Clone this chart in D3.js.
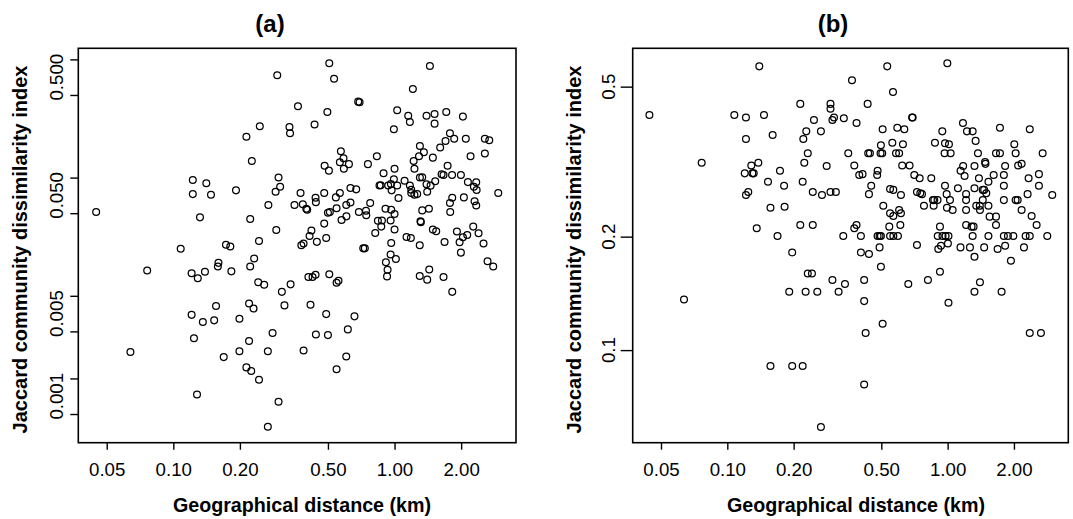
<!DOCTYPE html>
<html>
<head>
<meta charset="utf-8">
<script src="https://cdn.jsdelivr.net/npm/d3@7"></script>
<style>
  body { margin: 0; background: #fff; }
  svg { font-family: "Liberation Sans", Arial, sans-serif; }
</style>
</head>
<body>
<svg id="chart" width="1073" height="519"></svg>
<script>
// (distance km, Jaccard dissimilarity)
const pointsA = [
  [0.507,0.927],[1.445,0.879],[0.295,0.733],[0.533,0.687],[1.21,0.562],[0.685,0.439],[0.695,0.434],
  [0.366,0.401],[0.497,0.359],[1.028,0.371],[1.153,0.334],[1.395,0.334],[1.517,0.345],[1.713,0.359],
  [2.037,0.328],[1.173,0.2955],[1.517,0.286],[0.246,0.272],[0.435,0.281],[0.335,0.268],[0.337,0.237],
  [0.993,0.256],[0.214,0.222],[1.78,0.237],[1.70,0.204],[1.861,0.213],[2.10,0.213],[2.56,0.213],
  [2.68,0.207],[1.302,0.185],[1.608,0.180],[1.357,0.164],[1.29,0.1515],[1.49,0.1475],[2.206,0.1515],
  [2.56,0.160],[0.572,0.167],[0.588,0.1456],[0.566,0.1347],[0.622,0.130],[0.590,0.119],[0.832,0.1515],
  [0.2265,0.138],[0.483,0.126],[0.505,0.1145],[0.758,0.130],[1.22,0.138],[1.23,0.119],[1.737,0.126],
  [1.0,0.119],[0.892,0.1087],[1.632,0.1066],[1.665,0.1052],[1.82,0.1052],[1.995,0.1052],[1.302,0.1002],
  [1.334,0.1007],[0.993,0.0967],[1.11,0.0942],[1.527,0.093],[1.395,0.088],[1.455,0.0855],[2.146,0.0916],
  [2.34,0.0913],[2.284,0.0838],[2.35,0.0785],[0.855,0.0857],[0.866,0.086],[0.936,0.0857],[0.963,0.0881],
  [1.028,0.0857],[0.97,0.078],[1.173,0.0857],[1.19,0.079],[1.19,0.0741],[1.23,0.0716],[1.266,0.0725],
  [1.405,0.076],[0.299,0.100],[0.304,0.0838],[0.29,0.076],[0.192,0.078],[0.1225,0.0955],[0.141,0.0895],
  [0.1225,0.0725],[0.148,0.0716],[0.632,0.0817],[0.671,0.0795],[0.376,0.0741],[0.481,0.0741],[0.566,0.0741],
  [0.4395,0.0675],[0.441,0.062],[0.543,0.068],[0.605,0.0587],[0.632,0.0615],[0.776,0.061],[1.042,0.0672],
  [1.823,0.0675],[1.78,0.061],[2.058,0.068],[2.30,0.0632],[2.34,0.058],[2.943,0.0741],[0.269,0.0587],
  [0.353,0.0587],[0.385,0.0595],[0.399,0.0545],[0.403,0.0535],[0.50,0.0505],[0.51,0.0512],[0.547,0.055],
  [0.69,0.0512],[0.743,0.0525],[0.745,0.048],[0.91,0.0545],[0.966,0.0535],[1.0,0.0492],[1.334,0.0528],
  [1.43,0.0545],[1.785,0.0512],[0.0448,0.0512],[0.132,0.0461],[0.2226,0.0447],[0.606,0.047],[0.576,0.0438],
  [0.481,0.0408],[0.841,0.0432],[0.877,0.0433],[0.871,0.0385],[0.96,0.0433],[1.0,0.0364],[1.31,0.0427],
  [1.315,0.042],[1.49,0.0363],[1.543,0.0352],[2.268,0.0385],[2.398,0.0338],[1.914,0.035],[1.968,0.0284],
  [2.037,0.0313],[2.131,0.0327],[0.818,0.034],[0.292,0.0361],[0.421,0.0357],[0.413,0.032],[0.491,0.0308],
  [0.4455,0.0286],[0.244,0.0291],[0.388,0.0277],[0.379,0.0268],[0.966,0.028],[1.133,0.0314],[1.185,0.0308],
  [1.30,0.0268],[1.683,0.0285],[2.525,0.0277],[1.995,0.0232],[0.108,0.025],[0.173,0.027],[0.181,0.0261],
  [0.722,0.0252],[0.734,0.0252],[0.232,0.0207],[0.96,0.0224],[1.014,0.0205],[0.914,0.0192],[0.93,0.0166],
  [0.925,0.0146],[0.160,0.019],[0.159,0.0177],[0.0762,0.0164],[0.121,0.0155],[0.129,0.0141],[0.139,0.016],
  [0.183,0.0161],[0.2226,0.0177],[2.633,0.0196],[2.793,0.0177],[1.435,0.0167],[1.30,0.0147],[1.405,0.0137],
  [1.665,0.0144],[0.408,0.0144],[0.426,0.0144],[0.4395,0.0151],[0.507,0.0152],[0.547,0.0129],[0.558,0.0134],
  [0.242,0.013],[0.2575,0.0124],[0.339,0.0125],[0.3095,0.0108],[1.823,0.0108],[0.156,0.0082],[0.220,0.0086],
  [0.2305,0.0078],[0.318,0.0083],[0.417,0.0084],[0.121,0.0069],[0.136,0.006],[0.153,0.0062],[0.199,0.0064],
  [0.491,0.007],[0.659,0.0067],[0.281,0.00485],[0.441,0.0047],[0.50,0.00465],[0.615,0.0052],[0.124,0.00437],
  [0.220,0.00415],[0.064,0.00335],[0.199,0.0034],[0.2675,0.0034],[0.388,0.00344],[0.169,0.00303],
  [0.605,0.00307],[0.214,0.00248],[0.225,0.00231],[0.547,0.00239],[0.244,0.00195],[0.128,0.00146],
  [0.299,0.00127],[0.2675,0.00078]
];

// (distance km, Jaccard dissimilarity)
const pointsB = [
  [0.1397,0.566],[0.532,0.566],[0.997,0.577],[0.368,0.520],[0.565,0.484],[0.2144,0.450],[0.294,0.450],
  [0.4335,0.450],[0.294,0.437],[0.0443,0.4205],[0.1076,0.4205],[0.1215,0.4143],[0.1467,0.4205],
  [0.2473,0.408],[0.300,0.408],[0.305,0.4143],[0.338,0.412],[0.386,0.4005],[0.69,0.4143],[0.694,0.4143],
  [1.174,0.4005],[1.728,0.389],[2.36,0.3855],[0.507,0.3855],[0.591,0.389],[0.636,0.3855],[0.946,0.3805],
  [1.224,0.3805],[1.299,0.3805],[0.2283,0.3805],[0.266,0.3805],[0.1215,0.363],[0.1606,0.372],[0.2213,0.363],
  [1.34,0.359],[0.561,0.355],[0.876,0.355],[0.973,0.3538],[1.014,0.3516],[0.498,0.3494],[0.627,0.3516],
  [2.008,0.3516],[0.2319,0.3327],[0.354,0.3327],[0.436,0.3327],[0.444,0.3327],[0.496,0.3327],[0.505,0.3327],
  [0.583,0.3327],[0.6025,0.3327],[0.969,0.3327],[1.032,0.3327],[1.373,0.3327],[1.658,0.3327],[1.728,0.3327],
  [2.036,0.3327],[2.70,0.3327],[0.0765,0.314],[0.1383,0.314],[0.1285,0.309],[0.2236,0.314],[0.2825,0.308],
  [0.377,0.309],[0.622,0.309],[0.672,0.309],[1.176,0.308],[1.324,0.308],[1.485,0.312],[1.48,0.3155],
  [1.824,0.308],[2.09,0.309],[2.167,0.312],[0.120,0.2944],[0.130,0.2944],[0.1318,0.2944],[0.1734,0.299],
  [0.397,0.2915],[0.411,0.293],[0.481,0.299],[0.479,0.2915],[0.706,0.2915],[0.7465,0.2856],[0.843,0.2856],
  [1.145,0.299],[1.194,0.2897],[1.387,0.2856],[1.618,0.2915],[1.80,0.2915],[2.331,0.2856],[2.597,0.293],
  [0.153,0.2798],[0.2198,0.2798],[0.181,0.273],[0.450,0.273],[0.548,0.2677],[0.567,0.2661],[0.973,0.273],
  [1.114,0.2688],[1.324,0.2688],[1.465,0.2661],[1.532,0.2798],[1.80,0.273],[2.597,0.273],[0.1215,0.258],
  [0.1245,0.2628],[0.2443,0.2628],[0.269,0.258],[0.294,0.2628],[0.311,0.2628],[0.4395,0.2593],[0.614,0.258],
  [0.726,0.2628],[0.7515,0.2606],[0.765,0.2593],[0.99,0.2593],[0.858,0.250],[0.870,0.250],[0.90,0.250],
  [1.025,0.250],[1.213,0.250],[1.444,0.2661],[1.498,0.2606],[1.213,0.2593],[1.80,0.250],[2.036,0.250],
  [2.08,0.250],[2.985,0.258],[0.157,0.2387],[0.182,0.2402],[0.5105,0.2416],[0.548,0.2306],[0.567,0.227],
  [0.6025,0.2353],[0.614,0.2306],[0.781,0.2416],[0.864,0.2416],[0.993,0.2387],[1.054,0.2353],[1.213,0.2353],
  [1.349,0.2416],[1.402,0.2353],[1.444,0.250],[1.532,0.2416],[2.167,0.2353],[1.40,0.2416],[1.551,0.226],
  [1.658,0.226],[2.406,0.227],[0.136,0.2104],[0.2144,0.2148],[0.2443,0.2148],[0.377,0.2104],[0.386,0.2148],
  [0.5435,0.2126],[0.61,0.2148],[0.923,0.2126],[1.213,0.2148],[1.285,0.2126],[1.312,0.2126],[1.658,0.2148],
  [2.307,0.2593],[2.535,0.2148],[0.169,0.2008],[0.336,0.2008],[0.404,0.2008],[0.481,0.2008],[0.491,0.2008],
  [0.498,0.2008],[0.548,0.2008],[0.567,0.2008],[0.595,0.2008],[0.902,0.2008],[0.948,0.2008],[0.979,0.2008],
  [1.009,0.2008],[1.299,0.2008],[1.532,0.2008],[1.80,0.2008],[1.878,0.2008],[1.987,0.2008],[2.26,0.2008],
  [2.36,0.2008],[2.834,0.2008],[0.726,0.19],[0.907,0.1855],[0.933,0.1892],[1.003,0.1919],[1.144,0.1873],
  [1.263,0.1873],[1.465,0.1873],[1.686,0.1855],[1.824,0.1892],[2.221,0.1873],[0.491,0.1873],[0.197,0.1816],
  [0.404,0.1816],[0.4395,0.1798],[1.324,0.1769],[1.938,0.1726],[0.498,0.1664],[0.2319,0.1597],
  [0.2422,0.1597],[0.923,0.1614],[0.300,0.1534],[0.418,0.1534],[0.814,0.1534],[0.342,0.1497],[0.663,0.1497],
  [1.402,0.1513],[0.191,0.1428],[0.2267,0.1428],[0.2561,0.1428],[0.320,0.1428],[1.324,0.1428],[1.758,0.1428],
  [0.0636,0.1363],[0.418,0.1349],[1.009,0.1336],[0.507,0.1175],[0.4245,0.111],[2.36,0.111],[2.652,0.111],
  [0.157,0.0907],[0.197,0.0907],[0.2198,0.0907],[0.418,0.0811],[0.266,0.0625]
];

const xTicks = [0.05, 0.1, 0.2, 0.5, 1, 2];
const xTickLabels = ['0.05', '0.10', '0.20', '0.50', '1.00', '2.00'];

const yTicksA = [1, 0.5, 0.1, 0.05, 0.01, 0.005, 0.002, 0.001];
const yLabelSpansA = [[1, 0.5], [0.1, 0.05], [0.01, 0.005], [0.002, 0.001]];
const yLabelsA = ['0.500', '0.050', '0.005', '0.001'];

const yTicksB = [0.5, 0.2, 0.1];
const yLabelsB = ['0.5', '0.2', '0.1'];

const xTitle = 'Geographical distance (km)';
const yTitle = 'Jaccard community dissimilarity index';

const svg = d3.select('#chart');

const panels = [
  {
    title: '(a)', titleX: 270, xTitleX: 302,
    left: 78.3, right: 516, top: 48.3, bottom: 442.7,
    xDomain: [0.0372, 3.54], yDomain: [0.000572, 1.241],
    points: pointsA, yTicks: yTicksA, yTickLen: 8,
    yTitleX: 27, labelX: 63
  },
  {
    title: '(b)', titleX: 833, xTitleX: 856,
    left: 632.7, right: 1068.3, top: 48.3, bottom: 442.7,
    xDomain: [0.0372, 3.53], yDomain: [0.0568, 0.632],
    points: pointsB, yTicks: yTicksB, yTickLen: 12,
    yTitleX: 581, labelX: 615
  }
];

panels.forEach((p, pi) => {
  const x = d3.scaleLog().domain(p.xDomain).range([p.left, p.right]);
  const y = d3.scaleLog().domain(p.yDomain).range([p.bottom, p.top]);

  // x axis
  const xAxisG = svg.append('g')
    .attr('transform', `translate(0,${p.bottom})`)
    .call(d3.axisBottom(x)
      .tickValues(xTicks)
      .tickSize(7)
      .tickFormat((d, i) => xTickLabels[i]));
  xAxisG.select('.domain').remove();
  xAxisG.selectAll('line').attr('stroke', '#000').attr('stroke-width', 1.4);
  xAxisG.selectAll('text')
    .attr('y', 20)
    .attr('dy', '0.71em')
    .attr('fill', '#000')
    .style('font-size', '18.7px')
    .style('font-family', '"Liberation Sans", Arial, sans-serif');

  // y axis ticks
  const yAxisG = svg.append('g')
    .attr('transform', `translate(${p.left},0)`)
    .call(d3.axisLeft(y)
      .tickValues(p.yTicks)
      .tickSize(p.yTickLen)
      .tickFormat(''));
  yAxisG.select('.domain').remove();
  yAxisG.selectAll('line').attr('stroke', '#000').attr('stroke-width', 1.4);

  // y tick labels (rotated, as in R)
  let labelPos, labelText;
  if (pi === 0) {
    labelPos = yLabelSpansA.map((s) => y(Math.sqrt(s[0] * s[1])));
    labelText = yLabelsA;
  } else {
    labelPos = yTicksB.map((v) => y(v));
    labelText = yLabelsB;
  }
  svg.append('g')
    .selectAll('text')
    .data(labelText)
    .join('text')
    .attr('transform', (d, i) => `translate(${p.labelX},${labelPos[i]}) rotate(-90)`)
    .attr('text-anchor', 'middle')
    .style('font-size', '18.7px')
    .text((d) => d);

  // points
  svg.append('g')
    .selectAll('circle')
    .data(p.points)
    .join('circle')
    .attr('cx', (d) => x(d[0]))
    .attr('cy', (d) => y(d[1]))
    .attr('r', 3.4)
    .attr('fill', 'none')
    .attr('stroke', '#000')
    .attr('stroke-width', 1.25);

  // frame
  svg.append('rect')
    .attr('x', p.left)
    .attr('y', p.top)
    .attr('width', p.right - p.left)
    .attr('height', p.bottom - p.top)
    .attr('fill', 'none')
    .attr('stroke', '#000')
    .attr('stroke-width', 1.6);

  // titles
  svg.append('text')
    .attr('x', p.titleX)
    .attr('y', 32)
    .attr('text-anchor', 'middle')
    .style('font-size', '24px')
    .style('font-weight', 'bold')
    .text(p.title);

  svg.append('text')
    .attr('x', p.xTitleX)
    .attr('y', 512)
    .attr('text-anchor', 'middle')
    .style('font-size', '19.7px')
    .style('font-weight', 'bold')
    .text(xTitle);

  svg.append('text')
    .attr('transform', `translate(${p.yTitleX},${(p.top + p.bottom) / 2 + 4}) rotate(-90)`)
    .attr('text-anchor', 'middle')
    .style('font-size', '20px')
    .style('font-weight', 'bold')
    .text(yTitle);
});
</script>
</body>
</html>
